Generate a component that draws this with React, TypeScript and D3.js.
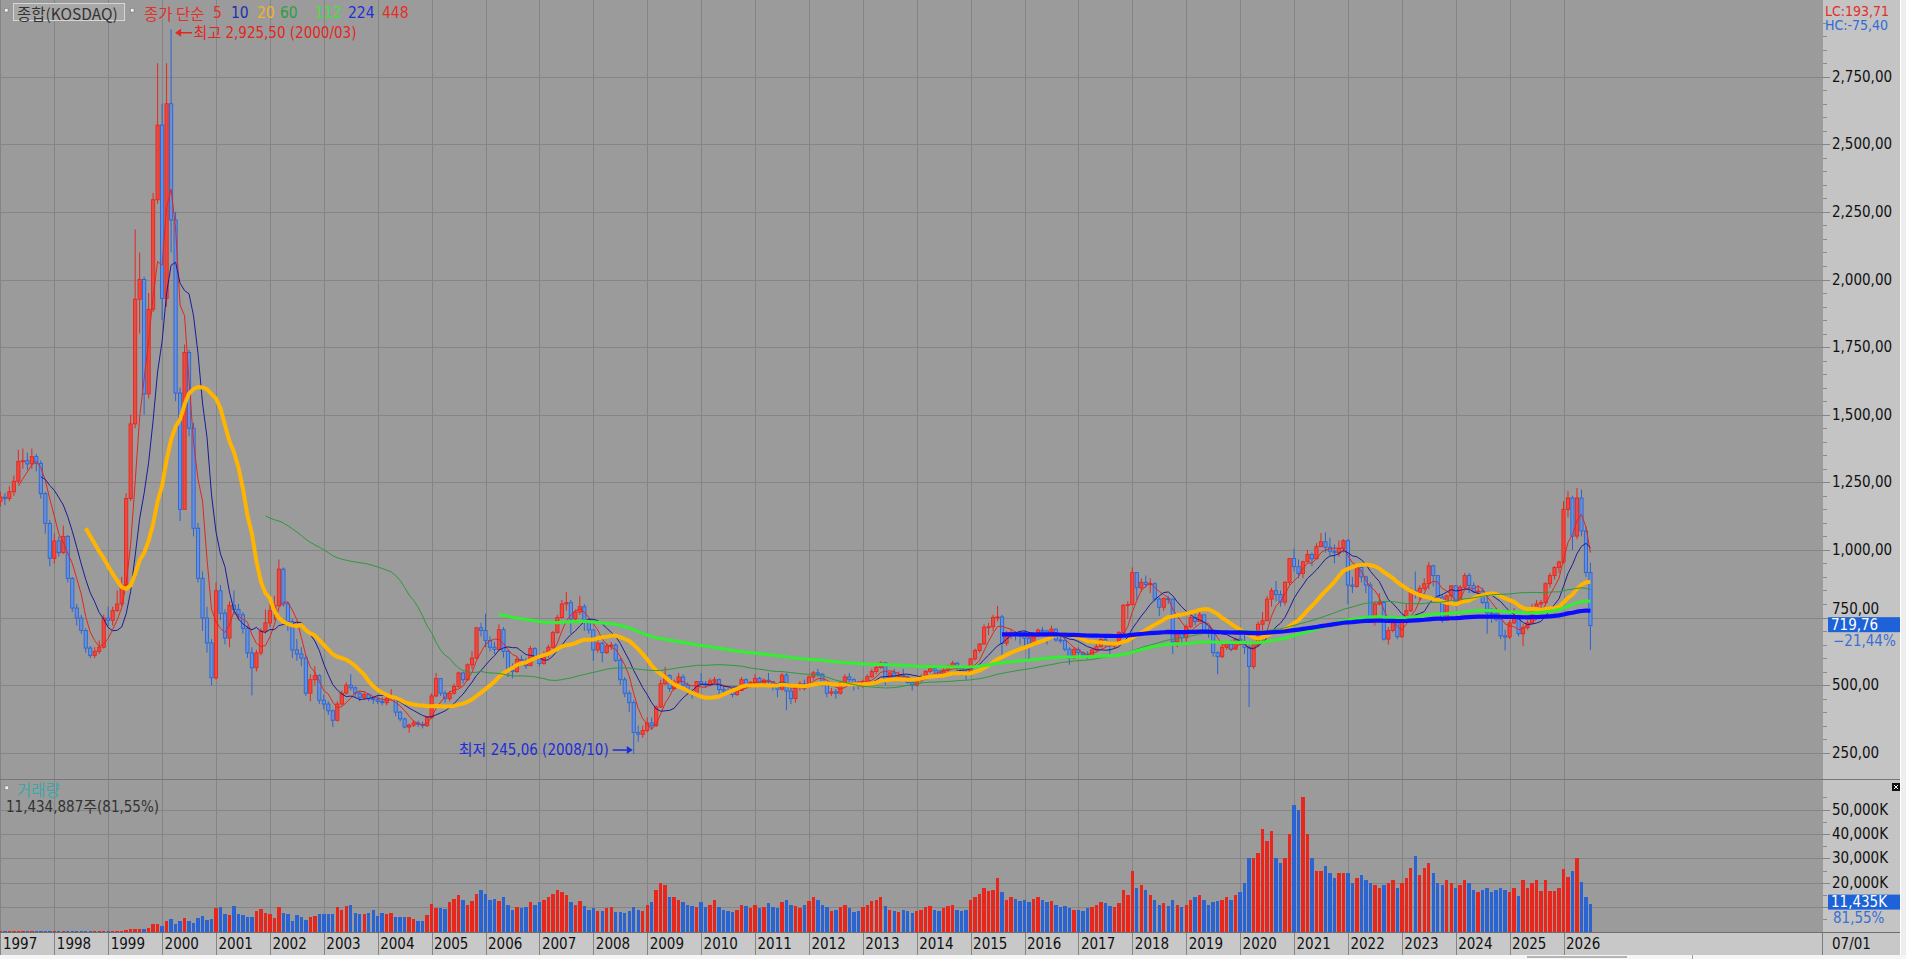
import React, { useEffect, useRef } from 'react';
import * as d3 from 'd3';

const WIDTH = 1906;
const HEIGHT = 959;

// KOSDAQ monthly candles 1997/01 .. 2026/07, every month opens at the previous close
const firstOpen = 1180;

const closes = [
  1195, 1190, 1215, 1254, 1327, 1330, 1318, 1345, 1320, 1208, 1098, 969, // 1997
  1033, 990, 1050, 895, 785, 748, 702, 637, 610, 625, 640, 748, // 1998
  740, 776, 800, 870, 1190, 1466, 1927, 2000, 1577, 1890, 2295, 2571, // 1999
  1930, 2650, 2220, 1580, 1150, 1730, 1450, 1080, 895, 748, 656, 527, // 2000
  849, 766, 674, 795, 780, 760, 710, 619, 564, 619, 700, 730, // 2001
  775, 795, 929, 800, 735, 630, 615, 600, 470, 520, 535, 444, // 2002
  430, 405, 370, 430, 470, 500, 490, 470, 455, 465, 450, 446, // 2003
  440, 435, 450, 455, 400, 375, 345, 352, 360, 355, 350, 380, // 2004
  460, 524, 470, 450, 470, 495, 545, 520, 575, 600, 712, 702, // 2005
  665, 640, 632, 705, 625, 555, 550, 595, 590, 572, 635, 606, // 2006
  580, 612, 640, 695, 750, 800, 805, 745, 770, 790, 740, 704, // 2007
  630, 655, 620, 645, 648, 592, 520, 470, 435, 325, 318, 332, // 2008
  360, 350, 419, 505, 535, 487, 512, 530, 500, 475, 470, 513, // 2009
  505, 500, 515, 520, 484, 478, 476, 465, 480, 520, 500, 510, // 2010
  525, 508, 518, 512, 495, 485, 537, 478, 450, 494, 505, 500, // 2011
  530, 545, 540, 505, 470, 475, 470, 510, 530, 520, 505, 496, // 2012
  510, 531, 550, 565, 582, 524, 545, 530, 535, 530, 510, 500, // 2013
  518, 531, 551, 562, 553, 536, 556, 571, 581, 562, 543, 542, // 2014
  597, 628, 652, 714, 716, 750, 752, 655, 684, 694, 688, 682, // 2015
  673, 652, 691, 703, 700, 683, 707, 667, 665, 633, 600, 631, // 2016
  620, 612, 605, 630, 642, 668, 650, 645, 650, 694, 795, 798, // 2017
  916, 860, 880, 872, 875, 818, 788, 820, 818, 660, 690, 675, // 2018
  716, 750, 735, 760, 701, 690, 620, 605, 640, 652, 633, 670, // 2019
  660, 640, 569, 650, 725, 738, 818, 849, 835, 807, 880, 968, // 2020
  938, 913, 956, 983, 967, 1012, 1030, 1010, 995, 990, 1005, 1034, // 2021
  870, 865, 935, 900, 870, 745, 800, 805, 670, 702, 730, 679, // 2022
  740, 775, 849, 842, 858, 875, 941, 905, 825, 740, 830, 867, // 2023
  800, 862, 905, 868, 845, 848, 805, 767, 763, 743, 682, 678, // 2024
  730, 745, 690, 712, 730, 785, 800, 805, 875, 905, 935, 955, // 2025
  1150, 1192, 1051, 1192, 1070, 916.2, 719.76, // 2026
];

const highs = [
  1215, 1210, 1235, 1275, 1370, 1375, 1360, 1375, 1355, 1330, 1215, 1110,
  1060, 1050, 1090, 1055, 900, 800, 760, 710, 645, 640, 665, 760,
  790, 790, 850, 900, 1210, 1500, 2185, 2100, 2010, 1950, 2320, 2800,
  2650, 2800, 2925.5, 2250, 1600, 1760, 1740, 1470, 1100, 920, 790, 670,
  880, 870, 780, 810, 850, 800, 770, 720, 640, 630, 710, 780,
  800, 830, 965, 935, 810, 745, 670, 640, 610, 540, 570, 540,
  465, 440, 410, 440, 480, 510, 540, 495, 480, 475, 470, 460,
  460, 455, 458, 485, 460, 405, 380, 358, 370, 368, 365, 385,
  470, 545, 525, 480, 478, 505, 550, 550, 580, 625, 715, 730,
  764, 680, 660, 725, 715, 630, 580, 605, 610, 600, 645, 640,
  615, 625, 650, 700, 760, 815, 845, 815, 780, 830, 800, 745,
  705, 670, 660, 655, 660, 655, 600, 530, 480, 445, 350, 350,
  380, 380, 425, 520, 568, 540, 520, 545, 540, 510, 485, 515,
  545, 515, 525, 530, 525, 495, 490, 485, 485, 530, 525, 515,
  540, 530, 525, 545, 515, 500, 545, 545, 500, 505, 515, 520,
  535, 552, 560, 545, 510, 490, 485, 515, 540, 545, 525, 510,
  520, 540, 560, 575, 588, 585, 550, 560, 550, 560, 535, 515,
  525, 540, 555, 575, 565, 555, 565, 575, 590, 585, 570, 555,
  600, 635, 655, 725, 730, 760, 793, 760, 700, 705, 700, 695,
  700, 680, 695, 710, 715, 705, 720, 710, 685, 685, 640, 640,
  640, 625, 625, 635, 655, 675, 675, 660, 660, 700, 800, 810,
  935, 910, 895, 905, 895, 880, 825, 825, 830, 820, 700, 700,
  725, 760, 765, 775, 760, 715, 700, 625, 650, 660, 665, 675,
  690, 700, 650, 655, 735, 770, 830, 860, 885, 850, 885, 970,
  1005, 965, 960, 1000, 990, 1025, 1062, 1065, 1045, 1020, 1035, 1040,
  1040, 900, 945, 950, 905, 880, 810, 840, 810, 715, 745, 740,
  745, 800, 860, 920, 870, 895, 955, 945, 905, 835, 835, 870,
  870, 870, 915, 915, 880, 870, 860, 830, 785, 785, 745, 705,
  740, 785, 750, 725, 740, 800, 815, 815, 880, 915, 940, 960,
  1180, 1217, 1200, 1229, 1223, 1085, 953,
];

const lows = [
  1160, 1165, 1180, 1200, 1245, 1300, 1295, 1300, 1290, 1190, 1060, 940,
  950, 975, 985, 880, 770, 720, 690, 620, 600, 600, 615, 635,
  720, 720, 770, 790, 860, 1180, 1450, 1800, 1500, 1560, 1880, 2280,
  1850, 1900, 2100, 1550, 1107, 1150, 1420, 1050, 880, 700, 620, 500,
  520, 740, 650, 640, 760, 740, 690, 600, 462, 550, 610, 690,
  715, 740, 790, 790, 700, 600, 590, 570, 460, 440, 500, 430,
  410, 390, 345, 365, 425, 465, 480, 455, 440, 445, 440, 430,
  430, 425, 425, 445, 385, 365, 340, 324, 345, 345, 340, 345,
  375, 455, 460, 435, 440, 465, 490, 505, 515, 560, 595, 680,
  640, 625, 615, 628, 600, 530, 525, 545, 575, 560, 570, 595,
  570, 575, 600, 635, 690, 745, 775, 690, 730, 760, 700, 690,
  590, 620, 585, 615, 630, 585, 500, 455, 400, 245.06, 290, 305,
  325, 335, 345, 415, 500, 475, 480, 505, 490, 465, 450, 465,
  500, 490, 495, 505, 455, 470, 470, 455, 460, 478, 490, 490,
  505, 495, 495, 505, 480, 455, 480, 407, 430, 435, 480, 480,
  495, 520, 530, 495, 455, 460, 450, 465, 505, 510, 480, 485,
  490, 505, 528, 540, 560, 500, 520, 520, 525, 525, 505, 480,
  495, 510, 525, 545, 540, 525, 530, 550, 565, 540, 535, 520,
  540, 590, 620, 650, 685, 700, 735, 610, 645, 670, 665, 650,
  645, 590, 645, 685, 690, 650, 680, 660, 655, 625, 575, 595,
  610, 600, 595, 600, 625, 640, 640, 615, 635, 645, 690, 745,
  795, 815, 845, 860, 840, 810, 755, 775, 800, 615, 640, 655,
  660, 710, 720, 735, 690, 675, 605, 540, 600, 630, 625, 630,
  650, 615, 419, 560, 640, 700, 740, 790, 810, 790, 795, 870,
  920, 895, 895, 955, 940, 965, 1010, 990, 980, 950, 975, 990,
  800, 840, 860, 880, 840, 730, 720, 795, 665, 650, 695, 670,
  675, 735, 770, 820, 815, 850, 855, 865, 810, 730, 740, 815,
  790, 800, 855, 840, 840, 830, 800, 690, 730, 735, 670, 628,
  670, 725, 680, 645, 705, 725, 775, 775, 795, 860, 890, 915,
  950, 1120, 1000, 1040, 1050, 900, 630,
];

// monthly volume, thousand shares
const volumes = [
  300, 280, 320, 350, 400, 380, 350, 360, 330, 300, 280, 260,
  250, 230, 260, 240, 220, 200, 210, 230, 200, 220, 280, 350,
  300, 300, 350, 400, 700, 930, 930, 930, 900, 1330, 3070, 3070,
  2270, 4400, 4930, 3070, 4400, 5330, 4400, 3600, 5330, 6270, 4670, 4930,
  9600, 10000, 7300, 6900, 10400, 7300, 6900, 6000, 6000, 8400, 9300, 7700,
  7100, 5500, 10000, 7700, 7300, 4300, 6900, 6000, 4700, 6000, 6400, 7300,
  7300, 7300, 7300, 10000, 8900, 10300, 10900, 7600, 7300, 7300, 7700, 8900,
  6300, 7700, 7300, 7700, 6000, 6000, 6000, 6000, 5200, 4400, 4400, 6900,
  11300, 9600, 9600, 9100, 11900, 13300, 14900, 13100, 11000, 12700, 15300, 17000,
  15300, 12900, 13300, 12400, 14000, 11000, 9000, 10000, 9500, 10000, 12000, 11000,
  12000, 13000, 14000, 15500, 17000, 16000, 15000, 12000, 11000, 12500, 10500, 9000,
  9500, 8500, 8500, 9500, 10000, 8000, 8000, 7500, 8500, 10000, 9000, 8500,
  11000, 12000, 17000, 20000, 19000, 14000, 14000, 13000, 12000, 11000, 10500, 10000,
  12000, 10000, 11000, 13000, 10000, 9000, 8500, 8000, 9000, 11000, 10500, 9500,
  11000, 9500, 10000, 11500, 10000, 9500, 12000, 13000, 11000, 10500, 9500, 11000,
  12500, 14000, 13000, 11000, 10000, 8500, 9000, 10000, 11000, 9500, 8000, 8500,
  10000, 11000, 12500, 13000, 14000, 10500, 9000, 8500, 8000, 9000, 8500, 7500,
  8500, 9000, 10000, 10500, 9000, 8500, 9500, 10500, 11000, 9000, 8500, 9000,
  13000, 14000, 15500, 18000, 16500, 17000, 22000, 16000, 13000, 14000, 13500, 12500,
  13000, 12000, 13500, 14000, 13000, 12000, 12500, 11000, 10000, 10500, 9500, 9000,
  9000, 8500, 9500, 10000, 11000, 12000, 11500, 10500, 10000, 11500, 17000, 15000,
  25000, 18000, 19000, 17000, 15000, 13000, 11000, 11500, 10500, 13000, 11000, 10000,
  11000, 13000, 14000, 15000, 13000, 11000, 12000, 12500, 13000, 14000, 13000, 15000,
  16000, 20000, 30000, 30000, 32000, 42000, 37000, 41000, 30000, 28000, 30000, 40000,
  52000, 50000, 55000, 40000, 30000, 25000, 25000, 27000, 24000, 22000, 24000, 24000,
  24000, 20000, 22000, 23000, 21000, 20000, 19000, 18000, 19000, 20000, 21000, 18000,
  20000, 22000, 26000, 31000, 23000, 26000, 28000, 24000, 20000, 19000, 21000, 20000,
  18000, 19000, 21000, 20000, 17000, 16000, 17000, 18000, 16000, 17000, 18000, 17000,
  16000, 18000, 14400, 21000, 18000, 19700, 21000, 16400, 21300, 16400, 16400, 18000,
  25600, 22400, 25000, 30300, 20400, 14000, 11434.887,
];

const yearLabels = [
  '1997', '1998', '1999', '2000', '2001', '2002', '2003', '2004', '2005', '2006',
  '2007', '2008', '2009', '2010', '2011', '2012', '2013', '2014', '2015', '2016',
  '2017', '2018', '2019', '2020', '2021', '2022', '2023', '2024', '2025', '2026',
];
const priceTicks = [250, 500, 750, 1000, 1250, 1500, 1750, 2000, 2250, 2500, 2750];
const volumeTicks = [10000, 20000, 30000, 40000, 50000];
const volumeLabels = [20000, 30000, 40000, 50000]; // 10,000K sits under the current-volume box
const maPeriods = [5, 10, 20, 60, 112, 224, 448];
const expPeriods = [112, 224]; // the long lines follow an exponential average in the reference

const maColor: Record<number, string> = {
  5: '#e3261e', 10: '#1b1b96', 20: '#ffb400', 60: '#2c9a3a', 112: '#36ec36', 224: '#0c0cff', 448: '#e3261e',
};
const maWidth: Record<number, number> = { 5: 1, 10: 1, 20: 4, 60: 1, 112: 3.2, 224: 4.2, 448: 1 };

const FONT = "'Liberation Sans Narrow', 'DejaVu Sans Condensed', 'Noto Sans CJK KR', sans-serif";
const KFONT = "'Noto Sans CJK KR', 'Liberation Sans Narrow', sans-serif";

const UP = '#e8261c';
const DOWN = '#2a64d2';

const simpleAvg = (vals: number[], n: number) =>
  vals.map((_, i) => (i < n - 1 ? null : (d3.mean(vals.slice(i - n + 1, i + 1)) as number)));

const expAvg = (vals: number[], n: number) => {
  const a = 2 / (n + 1);
  let e = vals[0];
  return vals.map((v, i) => {
    e = i === 0 ? v : a * v + (1 - a) * e;
    return i < n - 1 ? null : e;
  });
};

export default function App() {
  const svgRef = useRef<SVGSVGElement>(null);

  useEffect(() => {
    if (!svgRef.current) return;
    const svg = d3.select(svgRef.current);
    svg.selectAll('*').remove();

    const plotRight = 1823;
    const mainBottom = 779;
    const volBottom = 932;
    const bandBottom = 955;

    const candles = closes.map((c, i) => {
      const o = i === 0 ? firstOpen : closes[i - 1];
      return { i, o, c, h: Math.max(highs[i], o, c), l: Math.min(lows[i], o, c), v: volumes[i] };
    });
    const last = candles[candles.length - 1];

    const x = d3.scaleLinear().domain([0, 348]).range([0.4, 1563.5]);
    const y = d3.scaleLinear().domain([250, 2750]).range([752.7, 76.7]);
    const yv = d3.scaleLinear().domain([0, 50000]).range([931.5, 809.5]);

    // backgrounds
    svg.append('rect').attr('width', WIDTH).attr('height', HEIGHT).attr('fill', '#9b9b9b');
    svg.append('rect').attr('x', plotRight).attr('y', 0).attr('width', 77).attr('height', volBottom).attr('fill', '#c4c4c4');
    svg.append('rect').attr('x', 1900).attr('y', 0).attr('width', 6).attr('height', HEIGHT).attr('fill', '#eeeeee');
    svg.append('rect').attr('x', 0).attr('y', volBottom).attr('width', 1900).attr('height', bandBottom - volBottom).attr('fill', '#c8c8c8');
    svg.append('rect').attr('x', 0).attr('y', bandBottom).attr('width', WIDTH).attr('height', HEIGHT - bandBottom).attr('fill', '#f6f6f6');
    svg.append('rect').attr('x', 1527).attr('y', bandBottom + 1).attr('width', 100).attr('height', 2).attr('fill', '#b4b4b4');
    svg.append('line').attr('x1', 1692.5).attr('x2', 1692.5).attr('y1', bandBottom).attr('y2', HEIGHT).attr('stroke', '#a0a0a0');

    const grid = svg.append('g').attr('shape-rendering', 'crispEdges');

    // horizontal grid, price panel
    grid.selectAll('.hp').data(priceTicks).enter().append('line')
      .attr('x1', 0).attr('x2', plotRight + 7)
      .attr('y1', d => Math.round(y(d)) + 0.5).attr('y2', d => Math.round(y(d)) + 0.5)
      .attr('stroke', '#858585');
    grid.selectAll('.mp').data(d3.range(250, 3000, 50).filter(v => v % 250 !== 0)).enter().append('line')
      .attr('x1', plotRight).attr('x2', plotRight + 4)
      .attr('y1', d => Math.round(y(d)) + 0.5).attr('y2', d => Math.round(y(d)) + 0.5)
      .attr('stroke', '#8a8a8a');

    // horizontal grid, volume panel
    grid.selectAll('.hv').data(volumeTicks).enter().append('line')
      .attr('x1', 0).attr('x2', plotRight + 7)
      .attr('y1', d => Math.round(yv(d)) + 0.5).attr('y2', d => Math.round(yv(d)) + 0.5)
      .attr('stroke', '#858585');
    grid.selectAll('.mv').data(d3.range(5000, 60000, 10000)).enter().append('line')
      .attr('x1', plotRight).attr('x2', plotRight + 4)
      .attr('y1', d => Math.round(yv(d)) + 0.5).attr('y2', d => Math.round(yv(d)) + 0.5)
      .attr('stroke', '#8a8a8a');

    // year separators
    grid.selectAll('.vy').data(yearLabels).enter().append('line')
      .attr('x1', (_, k) => Math.round(x(k * 12)) + 0.5).attr('x2', (_, k) => Math.round(x(k * 12)) + 0.5)
      .attr('y1', 0).attr('y2', bandBottom)
      .attr('stroke', '#848484');

    // panel separators
    grid.append('line').attr('x1', 0).attr('x2', 1900).attr('y1', mainBottom + 0.5).attr('y2', mainBottom + 0.5)
      .attr('stroke', '#767676').attr('stroke-width', 1.5);
    grid.append('line').attr('x1', 0).attr('x2', 1900).attr('y1', volBottom + 0.5).attr('y2', volBottom + 0.5)
      .attr('stroke', '#6e6e6e');
    grid.append('line').attr('x1', plotRight - 0.5).attr('x2', plotRight - 0.5).attr('y1', volBottom).attr('y2', bandBottom)
      .attr('stroke', '#7a7a7a');
    grid.append('line').attr('x1', 1900.5).attr('x2', 1900.5).attr('y1', 0).attr('y2', bandBottom)
      .attr('stroke', '#ffffff');

    const defs = svg.append('defs');
    defs.append('clipPath').attr('id', 'main-clip').append('rect')
      .attr('x', 0).attr('y', 0).attr('width', plotRight).attr('height', mainBottom);

    const main = svg.append('g').attr('clip-path', 'url(#main-clip)');

    // candles
    const cg = main.append('g');
    cg.selectAll('.wick').data(candles).enter().append('line')
      .attr('x1', d => x(d.i)).attr('x2', d => x(d.i))
      .attr('y1', d => y(d.h)).attr('y2', d => y(d.l))
      .attr('stroke', d => (d.c >= d.o ? UP : DOWN)).attr('stroke-width', 1);
    cg.selectAll('.body').data(candles).enter().append('rect')
      .attr('x', d => x(d.i) - 1.6)
      .attr('y', d => y(Math.max(d.o, d.c)))
      .attr('width', 3.2)
      .attr('height', d => Math.max(1, Math.abs(y(d.o) - y(d.c))))
      .attr('fill', d => (d.c >= d.o ? '#ec4a40' : '#6790dc'))
      .attr('stroke', d => (d.c >= d.o ? UP : DOWN))
      .attr('stroke-width', 0.9);

    // moving averages
    maPeriods.forEach(n => {
      const vals = expPeriods.includes(n) ? expAvg(closes, n) : simpleAvg(closes, n);
      const line = d3.line<number | null>()
        .defined(v => v !== null)
        .x((_, i) => x(i))
        .y(v => y(v as number));
      main.append('path')
        .datum(vals)
        .attr('fill', 'none')
        .attr('stroke', maColor[n])
        .attr('stroke-width', maWidth[n])
        .attr('stroke-linejoin', 'round')
        .attr('d', line);
    });

    // volume bars
    svg.append('g').attr('shape-rendering', 'crispEdges')
      .selectAll('rect').data(candles).enter().append('rect')
      .attr('x', d => x(d.i) - 1.7)
      .attr('y', d => yv(d.v))
      .attr('width', 3.4)
      .attr('height', d => Math.max(0.5, yv(0) - yv(d.v)))
      .attr('fill', d => (d.c >= d.o ? UP : DOWN));

    const text = (tx: number, ty: number, s: string, color: string, opts: { anchor?: string; size?: number; font?: string } = {}) =>
      svg.append('text')
        .attr('x', tx).attr('y', ty)
        .attr('dominant-baseline', 'central')
        .attr('text-anchor', opts.anchor || 'start')
        .attr('font-family', opts.font || FONT)
        .attr('font-size', opts.size || 15)
        .attr('fill', color)
        .text(s);

    const fmtPrice = (v: number) => d3.format(',.2f')(v).replace('.', ',');

    // right price axis
    priceTicks.forEach(v => text(1832, y(v) + (v === 750 ? -9 : 0), fmtPrice(v), '#111'));
    text(1825, 10.5, 'LC:193,71', '#e0302a', { size: 14 });
    text(1825, 24.5, 'HC:-75,40', '#2f6cd4', { size: 14 });

    const yl = y(last.c) - 1;
    svg.append('rect').attr('x', 1828).attr('y', yl - 7.5).attr('width', 72).attr('height', 15).attr('fill', '#1d62d6');
    text(1831, yl, fmtPrice(last.c), '#ffffff');
    text(1833, yl + 16, fmtPrice(((last.c - last.o) / last.o) * 100) + '%', '#3b6fd2');

    // right volume axis
    volumeLabels.forEach(v => text(1832, yv(v), d3.format(',')(v) + 'K', '#111'));
    const yvl = yv(last.v) - 1.5;
    svg.append('rect').attr('x', 1828).attr('y', yvl - 7.5).attr('width', 72).attr('height', 15).attr('fill', '#1d62d6');
    text(1831, yvl, d3.format(',')(Math.round(last.v)) + 'K', '#ffffff');
    text(1833, yvl + 16, '81,55%', '#3b6fd2');
    svg.append('rect').attr('x', 1892).attr('y', 783).attr('width', 8).attr('height', 8).attr('fill', '#111');
    svg.append('path').attr('d', 'M1894,785L1898,789M1898,785L1894,789').attr('stroke', '#fff').attr('stroke-width', 1);

    // date axis
    yearLabels.forEach((s, k) => text(x(k * 12) + 2.5, 944, s, '#111'));
    text(1832, 944, '07/01', '#111');

    // legend
    const marker = (mx: number, my: number) =>
      svg.append('rect').attr('x', mx).attr('y', my).attr('width', 3.5).attr('height', 3.5)
        .attr('fill', '#f4f4f4').attr('stroke', '#7d7d7d').attr('stroke-width', 0.6);
    marker(4.5, 8.5);
    svg.append('rect').attr('x', 13.5).attr('y', 3.5).attr('width', 111).attr('height', 17)
      .attr('fill', '#a8a8a8').attr('stroke', '#d6d6d6');
    text(17, 12.5, '종합(KOSDAQ)', '#333', { font: KFONT, size: 15.5 });
    marker(130.5, 8.5);
    text(144, 12.5, '종가 단순', '#e3302a', { font: KFONT, size: 15.5 });
    const legendX: Record<number, number> = { 5: 213, 10: 231, 20: 257, 60: 280, 112: 315, 224: 348, 448: 382 };
    const legendColor: Record<number, string> = { 5: '#e3302a', 10: '#2030b0', 20: '#f2b22a', 60: '#2f9e3e', 112: '#3ee23e', 224: '#2030d8', 448: '#e3302a' };
    maPeriods.forEach(n => text(legendX[n], 12.5, String(n), legendColor[n], { size: 15.5 }));

    // high / low markers
    const hi = d3.maxIndex(highs);
    const lo = d3.minIndex(lows);
    const hx = x(hi);
    const hy = y(highs[hi]) + 3.5;
    svg.append('line').attr('x1', hx + 8).attr('x2', hx + 21).attr('y1', hy).attr('y2', hy).attr('stroke', '#e3261e').attr('stroke-width', 1.5);
    svg.append('path').attr('d', `M${hx + 4},${hy}L${hx + 10},${hy - 4}L${hx + 10},${hy + 4}Z`).attr('fill', '#e3261e');
    text(hx + 22.5, hy, `최고 ${fmtPrice(highs[hi])} (2000/03)`, '#e3261e', { size: 15 });

    const lx = x(lo);
    const ly = y(lows[lo]) - 4;
    svg.append('line').attr('x1', lx - 21).attr('x2', lx - 7).attr('y1', ly).attr('y2', ly).attr('stroke', '#1e2ed8').attr('stroke-width', 1.5);
    svg.append('path').attr('d', `M${lx - 1},${ly}L${lx - 7},${ly - 4}L${lx - 7},${ly + 4}Z`).attr('fill', '#1e2ed8');
    text(lx - 25, ly, `최저 ${fmtPrice(lows[lo])} (2008/10)`, '#1e2ed8', { anchor: 'end', size: 15 });

    // volume legend
    marker(5, 786);
    text(17, 789, '거래량', '#3fa6a6', { font: KFONT, size: 15.5 });
    text(6, 807, `${d3.format(',')(Math.round(last.v * 1000))}주(81,55%)`, '#333', { size: 15 });
  }, []);

  return (
    <div style={{ position: 'absolute', left: 0, top: 0, width: WIDTH, height: HEIGHT }}>
      <svg ref={svgRef} width={WIDTH} height={HEIGHT} style={{ display: 'block' }} />
    </div>
  );
}
